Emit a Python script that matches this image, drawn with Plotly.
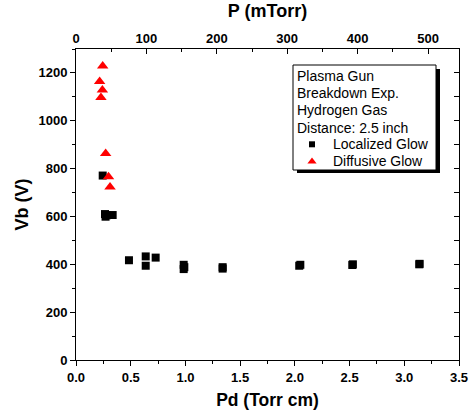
import plotly.graph_objects as go

# Localized glow breakdown points (Pd in Torr cm, Vb in V)
loc_pd = [0.244, 0.265, 0.27, 0.28, 0.335, 0.484, 0.637, 0.637, 0.728,
          0.984, 0.984, 0.99, 1.34, 1.34, 2.04, 2.05, 2.525, 2.53, 3.137, 3.14]
loc_vb = [771, 610, 599, 605, 606, 417, 433, 394, 428,
          398, 380, 388, 388, 382, 394, 398, 397, 400, 400, 402]

# Diffusive glow breakdown points
dif_pd = [0.244, 0.216, 0.241, 0.228, 0.271, 0.297, 0.311]
dif_vb = [1229, 1164, 1129, 1097, 863, 766, 723]

# Axis ranges and tick values
pd_range = [0, 3.5]
p_range = [0, 544]
vb_range = [0, 1300]
pd_ticks = [0.0, 0.5, 1.0, 1.5, 2.0, 2.5, 3.0, 3.5]
pd_ticklabels = ["0.0", "0.5", "1.0", "1.5", "2.0", "2.5", "3.0", "3.5"]
p_ticks = [0, 100, 200, 300, 400, 500]
vb_ticks = [0, 200, 400, 600, 800, 1000, 1200]

info_lines = ["Plasma Gun", "Breakdown Exp.", "Hydrogen Gas", "Distance: 2.5 inch"]
series_names = ["Localized Glow", "Diffusive Glow"]
series_symbols = ["square", "triangle-up"]
series_colors = ["black", "#ff0000"]

FONT = "Liberation Sans, Arial, sans-serif"

# plot-area geometry in pixels
W, H = 469, 419
L, R, T, B = 76, 10, 49, 59
PW, PH = W - L - R, H - T - B


def px_x(px):
    return (px - L) / PW


def px_y(py):
    return (H - B - py) / PH


fig = go.Figure()
fig.add_trace(go.Scatter(
    x=loc_pd, y=loc_vb, mode="markers", name=series_names[0],
    marker=dict(symbol=series_symbols[0], size=8, color=series_colors[0]),
    showlegend=False,
))
fig.add_trace(go.Scatter(
    x=dif_pd, y=dif_vb, mode="markers", name=series_names[1],
    marker=dict(symbol=series_symbols[1], size=10, color=series_colors[1]),
    showlegend=False,
))
# invisible trace to activate the top pressure axis
fig.add_trace(go.Scatter(x=p_range, y=[None, None], xaxis="x2", yaxis="y",
                         showlegend=False, hoverinfo="skip"))
# invisible trace to activate the right-hand axis
fig.add_trace(go.Scatter(x=[None], y=[None], xaxis="x", yaxis="y2",
                         showlegend=False, hoverinfo="skip"))

tickfont = dict(family=FONT, size=13, color="black", weight="bold")
titlefont = dict(family=FONT, size=18, color="black", weight="bold")

fig.update_layout(
    width=W, height=H,
    margin=dict(l=L, r=R, t=T, b=B, autoexpand=False),
    paper_bgcolor="white", plot_bgcolor="rgba(0,0,0,0)",
    showlegend=False,
    xaxis=dict(
        range=pd_range, tickvals=pd_ticks, ticktext=pd_ticklabels,
        ticks="outside", ticklen=5, tickwidth=1, tickcolor="black",
        minor=dict(dtick=0.25, ticks="outside", ticklen=3, tickcolor="black"),
        showline=True, linecolor="black", linewidth=1, showgrid=False,
        zeroline=False, tickfont=tickfont, automargin=False,
        title=dict(text="Pd (Torr cm)", font=dict(titlefont, size=17.5), standoff=10),
    ),
    xaxis2=dict(
        range=p_range, overlaying="x", side="top", tickvals=p_ticks,
        ticks="inside", ticklen=5, tickwidth=1, tickcolor="black",
        minor=dict(dtick=50, ticks="inside", ticklen=3, tickcolor="black"),
        showline=True, linecolor="black", linewidth=1, showgrid=False,
        zeroline=False, tickfont=tickfont, automargin=False,
        title=dict(text="P (mTorr)", font=titlefont, standoff=8),
    ),
    yaxis=dict(
        range=vb_range, tickvals=vb_ticks,
        ticks="outside", ticklen=5, tickwidth=1, tickcolor="black",
        minor=dict(dtick=100, ticks="outside", ticklen=3, tickcolor="black"),
        showline=True, linecolor="black", linewidth=1, showgrid=False,
        zeroline=False, tickfont=tickfont, automargin=False,
        title=dict(text="Vb (V)", font=titlefont, standoff=5),
    ),
    yaxis2=dict(
        range=vb_range, overlaying="y", side="right", tickvals=vb_ticks,
        ticks="inside", ticklen=5, tickwidth=1, tickcolor="black",
        minor=dict(dtick=100, ticks="inside", ticklen=5, tickcolor="black"),
        showticklabels=False, showline=True, linecolor="black", linewidth=1,
        showgrid=False, zeroline=False, automargin=False,
    ),
    # unit overlay axes used to place the key symbols inside the info box
    xaxis3=dict(range=[0, 1], overlaying="x", visible=False, fixedrange=True),
    yaxis3=dict(range=[0, 1], overlaying="y", visible=False, fixedrange=True),
)

# info box with drop shadow (drawn beneath the traces so the key symbols show)
fig.add_shape(type="rect", xref="paper", yref="paper",
              x0=px_x(297), x1=px_x(440), y0=px_y(173), y1=px_y(69),
              fillcolor="black", line=dict(width=0), layer="below")
fig.add_shape(type="rect", xref="paper", yref="paper",
              x0=px_x(293), x1=px_x(436), y0=px_y(170), y1=px_y(65),
              fillcolor="white", line=dict(color="black", width=1), layer="below")

LINE_STEP = 17.2
for i, line in enumerate(info_lines):
    fig.add_annotation(
        x=px_x(295), y=px_y(76 + i * LINE_STEP), xref="paper", yref="paper",
        text=line, showarrow=False, xanchor="left", yanchor="middle",
        font=dict(family=FONT, size=14, color="black"),
    )

# key entries below the info lines
key_rows = [76 + (len(info_lines) + k) * LINE_STEP - 1 for k in range(len(series_names))]
key_sizes = [6, 8]
for name, sym, col, row, sz in zip(series_names, series_symbols, series_colors,
                                   key_rows, key_sizes):
    fig.add_annotation(
        x=px_x(331), y=px_y(row), xref="paper", yref="paper",
        text=name, showarrow=False, xanchor="left", yanchor="middle",
        font=dict(family=FONT, size=14, color="black"),
    )
    fig.add_trace(go.Scatter(
        x=[px_x(312)], y=[px_y(row + 0.5)], xaxis="x3", yaxis="y3",
        mode="markers", marker=dict(symbol=sym, size=sz, color=col),
        showlegend=False, hoverinfo="skip", cliponaxis=False,
    ))

fig.write_html("out.html")
